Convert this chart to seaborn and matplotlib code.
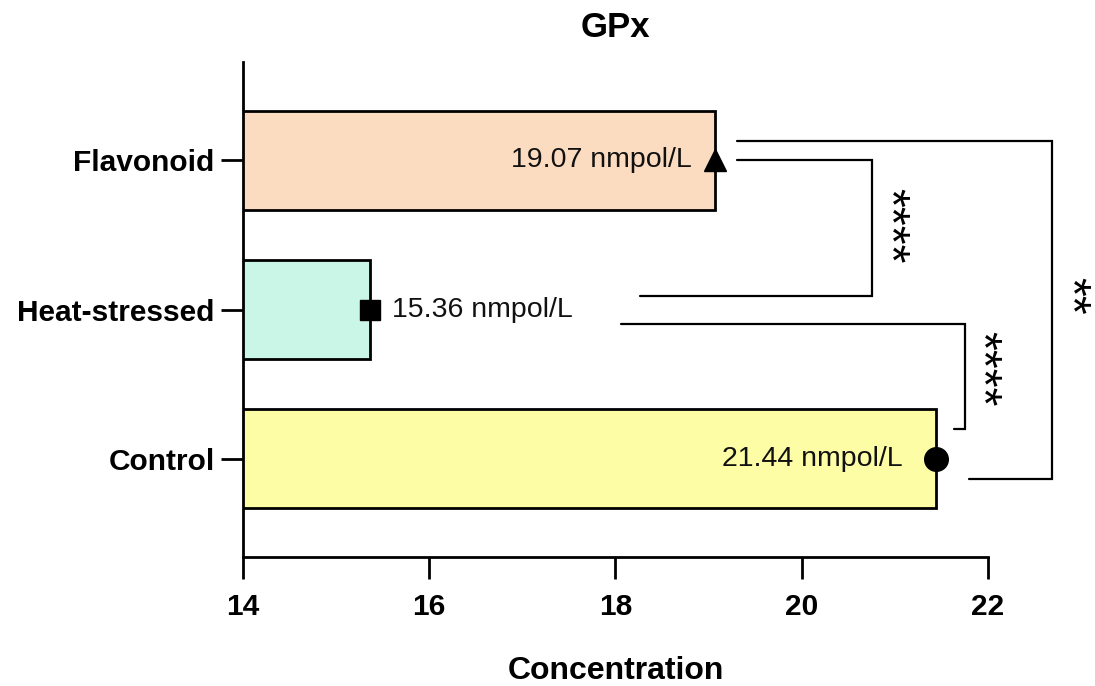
import matplotlib
matplotlib.use("Agg")
import matplotlib.pyplot as plt
import seaborn as sns
import pandas as pd

sns.set_style("white")
plt.rcParams["font.family"] = ["Liberation Sans", "DejaVu Sans"]
plt.rcParams["text.color"] = "black"
plt.rcParams["xtick.color"] = "black"
plt.rcParams["ytick.color"] = "black"
plt.rcParams["axes.labelcolor"] = "black"

# ---- data ----
categories = ["Flavonoid", "Heat-stressed", "Control"]
values = [19.07, 15.36, 21.44]
value_labels = ["19.07 nmpol/L", "15.36 nmpol/L", "21.44 nmpol/L"]
bar_colors = ["#FCDCC0", "#C9F6E6", "#FDFDA6"]
markers = ["^", "s", "o"]
xticks = [14, 16, 18, 20, 22]
# significance comparisons (pairs of category indices) and labels
comparisons = [(0, 1), (1, 2), (0, 2)]
sig_labels = ["****", "****", "**"]

df = pd.DataFrame({"Group": categories, "Concentration": values})

fig = plt.figure(figsize=(10.95, 6.86), dpi=100)
ax = fig.add_axes([0.2219, 0.188, 0.6804, 0.7216])

sns.barplot(data=df, y="Group", x="Concentration", hue="Group",
            palette=bar_colors, order=categories, orient="h", saturation=1,
            width=0.66, edgecolor="black", linewidth=2, legend=False, ax=ax)

marker_sizes = {"^": 16, "s": 15, "o": 17}
for i, (v, m) in enumerate(zip(values, markers)):
    ax.plot(v, i, marker=m, ms=marker_sizes[m], color="black",
            clip_on=False, zorder=5)

label_offsets = [(-17, "right"), (16, "left"), (-24, "right")]
for i, (v, t) in enumerate(zip(values, value_labels)):
    dx, ha = label_offsets[i]
    ax.annotate(t, (v, i), xytext=(dx, 0), textcoords="offset points",
                ha=ha, va="center", fontsize=20.5, color="#111111")

ax.set_xlim(14, 22)
ax.set_ylim(2.66, -0.66)
ax.set_xticks(xticks)
ax.set_xticklabels([str(t) for t in xticks])
ax.set_ylabel("")
ax.set_xlabel("Concentration", fontsize=23, fontweight="bold", labelpad=25)
ax.set_title("GPx", fontsize=25, fontweight="bold", pad=18)

for lab in ax.get_xticklabels() + ax.get_yticklabels():
    lab.set_fontweight("bold")
    lab.set_fontsize(21.5)

sns.despine(ax=ax)
for s in ["left", "bottom"]:
    ax.spines[s].set_linewidth(2)
    ax.spines[s].set_color("black")
ax.tick_params(axis="both", which="major", bottom=True, left=True,
               direction="out", length=16, width=2, color="black")
ax.tick_params(axis="y", pad=4.5)
ax.tick_params(axis="x", pad=10)

# significance brackets (annotation geometry)
brackets = [
    # (x_start_top, y_top, x_vert, y_bot, x_start_bot, x_text, y_text)
    (19.30, 0.00, 20.75, 0.91, 18.26, 20.93, 0.44),
    (18.06, 1.10, 21.75, 1.80, 21.63, 21.92, 1.40),
    (19.30, -0.13, 22.69, 2.14, 21.80, 22.88, 0.91),
]
for (x1, y1, xv, y2, x2, xt, yt), lab in zip(brackets, sig_labels):
    ax.plot([x1, xv, xv, x2], [y1, y1, y2, y2], color="black", lw=1.6,
            clip_on=False, solid_joinstyle="miter")
    ax.text(xt, yt, lab, rotation=-90, ha="center", va="center",
            fontsize=35, color="black", clip_on=False)

fig.savefig("out.png", dpi=100)
